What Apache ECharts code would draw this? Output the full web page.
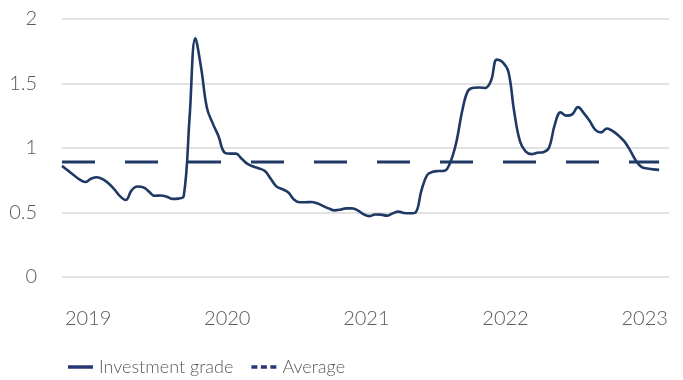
<!DOCTYPE html>
<html><head><meta charset="utf-8">
<script src="https://cdn.jsdelivr.net/npm/echarts@6/dist/echarts.min.js"></script>
<style>html,body{margin:0;padding:0;background:#fff}#c{width:683px;height:380px}</style>
</head><body><div id="c"></div>
<script>
// x positions are in months counted from mid-2018; year labels sit at mid-year (multiples of 12)
const yearLabels = ['2019', '2020', '2021', '2022', '2023'];
const yearLabelMonths = [12, 24, 36, 48, 60];
const firstMonth = 9.75;   // first observation
const monthStep = 0.5;     // semi-monthly observations
const investmentGrade = [
  0.86, 0.825, 0.79, 0.755, 0.735, 0.76, 0.772, 0.758, 0.725, 0.68,
  0.625, 0.595, 0.67, 0.70, 0.695, 0.66, 0.628, 0.63, 0.622, 0.604,
  0.606, 0.625, 1.23, 1.85, 1.62, 1.31, 1.19, 1.09, 0.965, 0.955,
  0.955, 0.915, 0.875, 0.855, 0.84, 0.82, 0.76, 0.70, 0.68, 0.655,
  0.60, 0.578, 0.578, 0.58, 0.57, 0.55, 0.53, 0.515, 0.52, 0.53,
  0.53, 0.515, 0.485, 0.47, 0.483, 0.482, 0.474, 0.49, 0.505, 0.495,
  0.492, 0.50, 0.67, 0.79, 0.815, 0.82, 0.822, 0.89, 1.04, 1.28,
  1.44, 1.466, 1.468, 1.464, 1.52, 1.685, 1.665, 1.59, 1.28, 1.05,
  0.97, 0.951, 0.962, 0.966, 1.0, 1.18, 1.275, 1.25, 1.26, 1.316,
  1.27, 1.21, 1.14, 1.12, 1.15, 1.13, 1.095, 1.05, 0.98, 0.90,
  0.85, 0.84, 0.833, 0.829
];
const averageValue = 0.89;
const yMin = 0, yMax = 2, yStep = 0.5;

const months = investmentGrade.map((_, i) => firstMonth + i * monthStep);
const igData = investmentGrade.map((v, i) => [months[i], v]);
const avgData = [[months[0], averageValue], [months[months.length - 1], averageValue]];

const navy = '#1f3864';
const txt = '#595959';
const font = 'Lato';

const chart = echarts.init(document.getElementById('c'), null, {renderer: 'canvas'});
chart.setOption({
  animation: false,
  backgroundColor: '#fff',
  grid: {left: 62, right: 14, top: 19, bottom: 103.3, containLabel: false},
  xAxis: {
    type: 'value', min: firstMonth, max: 62.1,
    axisLine: {show: false}, axisTick: {show: false}, splitLine: {show: false},
    axisLabel: {
      customValues: yearLabelMonths, margin: 32,
      color: txt, fontFamily: font, fontSize: 20, fontWeight: 300,
      formatter: v => yearLabels[yearLabelMonths.indexOf(v)] || ''
    }
  },
  yAxis: {
    type: 'value', min: yMin, max: yMax, interval: yStep,
    axisLine: {show: false}, axisTick: {show: false},
    splitLine: {lineStyle: {color: '#d9d9d9', width: 1.5}},
    axisLabel: {margin: 25, color: txt, fontFamily: font, fontSize: 20, fontWeight: 300}
  },
  legend: {
    left: 63, top: 353, itemWidth: 25, itemHeight: 14, itemGap: 18,
    textStyle: {color: txt, fontFamily: font, fontSize: 18, fontWeight: 300, padding: [0, 0, 0, 1]},
    data: [
      {name: 'Investment grade', icon: 'path://M0,0H25V3.5H0Z', itemStyle: {color: '#2b3674'}},
      {name: 'Average', icon: 'path://M0,0H6V3.5H0ZM9.5,0H15.5V3.5H9.5ZM19,0H25V3.5H19Z', itemStyle: {color: '#2b3674'}}
    ]
  },
  series: [
    {
      name: 'Average', type: 'line', data: avgData, symbol: 'none',
      lineStyle: {color: navy, width: 3, type: [33, 30]}, itemStyle: {color: navy}, z: 2
    },
    {
      name: 'Investment grade', type: 'line', data: igData, symbol: 'none', smooth: 0.4,
      lineStyle: {color: navy, width: 2.6}, itemStyle: {color: navy}, z: 3
    }
  ]
});
</script></body></html>
